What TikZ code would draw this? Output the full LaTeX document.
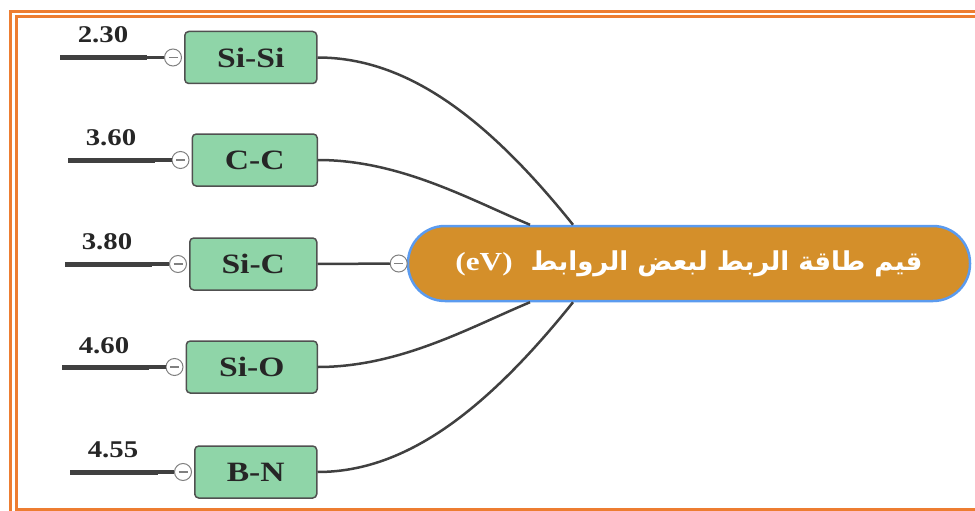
\documentclass[tikz,border=0pt]{standalone}
\usepackage{fontspec}
\setmainfont{Liberation Serif}
\newfontfamily\wideserif[FakeStretch=1.2]{Liberation Serif}
\newfontfamily\arabicfont[Script=Arabic]{DejaVu Sans}
\TeXXeTstate=1
\usepackage{tikz}
\usetikzlibrary{positioning}

\definecolor{frameorange}{HTML}{ED7D31}
\definecolor{boxgreen}{HTML}{8FD5A8}
\definecolor{boxline}{HTML}{505050}
\definecolor{ochre}{HTML}{D48F2A}
\definecolor{rimblue}{HTML}{5B9BEF}
\definecolor{wire}{HTML}{404040}

\tikzset{
  bondbox/.style={draw=boxline, fill=boxgreen, line width=1.5pt, rounded corners=4pt,
    minimum height=52pt, anchor=east, inner sep=0pt,
    font=\wideserif\bfseries\fontsize{28}{28}\selectfont, text=black!85},
  knob/.style={circle, draw=black!50, fill=white, line width=1pt, minimum size=17pt, inner sep=0pt,
    path picture={\draw[black!50, line width=1.2pt] ([xshift=-4.5pt]path picture bounding box.center)
      -- ([xshift=4.5pt]path picture bounding box.center);}},
  val/.style={font=\wideserif\bfseries\fontsize{24}{24}\selectfont, text=black!85, inner sep=0pt},
  link/.style={draw=wire, line width=2.5pt},
  stub/.style={draw=wire, line width=5pt},
  frame/.style={draw=frameorange, line width=3pt}
}

\begin{document}
\begin{tikzpicture}[x=1pt,y=-1pt]
  \useasboundingbox (0,0) rectangle (975,511);

  % frame
  \draw[frame] (10.5,511) -- (10.5,11.5) -- (975,11.5);
  \draw[frame] (975,509.5) -- (16,509.5) -- (16,17) -- (975,17);

  % centre
  \node[draw=rimblue, fill=ochre, line width=2.5pt, rounded corners=37pt,
    minimum width=562pt, minimum height=75pt, text=white] (hub) at (689,263.5)
    {\arabicfont\bfseries\fontsize{26}{26}\selectfont\beginR قيم طاقة الربط لبعض الروابط\ \ \beginL{\wideserif(eV)}\endL\endR};

  % bonds
  \node[bondbox, minimum width=132pt] (sisi) at (317.5,57.5) {Si-Si};
  \node[bondbox, minimum width=125pt] (cc) at (318,160) {C-C};
  \node[bondbox, minimum width=127pt] (sic) at (317.5,264) {Si-C};
  \node[bondbox, minimum width=131pt] (sio) at (318,367) {Si-O};
  \node[bondbox, minimum width=122pt] (bn) at (317.5,472) {B-N};

  \node[knob, left=2pt of sisi] (k1) {};
  \node[knob, left=2pt of cc] (k2) {};
  \node[knob, left=2pt of sic] (k3) {};
  \node[knob, left=2pt of sio] (k4) {};
  \node[knob, left=2pt of bn] (k5) {};
  \node[knob, left=-1pt of hub] (kh) {};

  % energies
  \coordinate (s1) at (60,57.5);  \coordinate (m1) at (147,57.5);
  \coordinate (s2) at (68,160);   \coordinate (m2) at (155,160);
  \coordinate (s3) at (65,264);   \coordinate (m3) at (152,264);
  \coordinate (s4) at (62,367);   \coordinate (m4) at (149,367);
  \coordinate (s5) at (70,472);   \coordinate (m5) at (158,472);

  \node[val] (v1) at (103,35) {2.30};
  \node[val] (v2) at (111,138) {3.60};
  \node[val] (v3) at (107,242) {3.80};
  \node[val] (v4) at (104,346) {4.60};
  \node[val] (v5) at (113,450) {4.55};

  \foreach \i in {1,...,5}{
    \draw[stub] (s\i) -- (m\i);
    \draw[wire, line width=3.5pt] (m\i) -- (k\i);
  }

  % links to centre
  \draw[link] (sisi.east) .. controls +(83,0) and +(-93,-116) .. ([xshift=-116pt]hub.north);
  \draw[link] (cc.east) .. controls +(82,0) and +(-60,-25) .. ([xshift=-159pt]hub.north);
  \draw[link] (sic.east) -- (kh);
  \draw[link] (sio.east) .. controls +(82,0) and +(-60,25) .. ([xshift=-159pt]hub.south);
  \draw[link] (bn.east) .. controls +(83,0) and +(-93,116) .. ([xshift=-116pt]hub.south);
\end{tikzpicture}
\end{document}
